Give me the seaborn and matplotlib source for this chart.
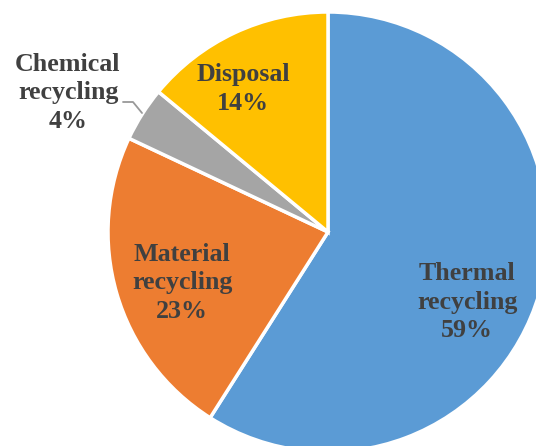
import matplotlib
matplotlib.use("Agg")
import matplotlib.pyplot as plt
import seaborn as sns

categories = ["Thermal\nrecycling", "Material\nrecycling", "Chemical\nrecycling", "Disposal"]
values = [59, 23, 4, 14]
colors = ["#5B9BD5", "#ED7D31", "#A5A5A5", "#FFC000"]
pct_labels = ["59%", "23%", "4%", "14%"]

sns.set_style("white")
plt.rcParams['font.family'] = ['Liberation Serif', 'DejaVu Serif']

W, H = 536, 446
fig = plt.figure(figsize=(W / 100, H / 100), dpi=100)
ax = fig.add_axes([0, 0, 1, 1])

cx, cy, r = 328, H - 232, 220
palette = sns.color_palette(colors)
ax.pie(values, colors=palette, startangle=90, counterclock=False,
       center=(cx, cy), radius=r, frame=True,
       wedgeprops=dict(edgecolor="white", linewidth=2.5))

ax.set_xlim(0, W)
ax.set_ylim(0, H)
ax.set_aspect("auto")
ax.axis("off")

txt = dict(fontsize=18.7, fontweight="bold", color="#404040",
           ha="center", va="center", linespacing=1.33)
# label positions (pixel coords from top-left)
pos = [(467, 302), (182, 283), (68, 93), (243, 89)]
for cat, p, (x, y) in zip(categories, pct_labels, pos):
    ax.text(x, H - y, f"{cat}\n{p}", **txt)

# leader line for Chemical recycling
ax.plot([123, 133, 142], [H - 102, H - 102, H - 113], color="#999999", lw=1.3)

fig.savefig("out.png", dpi=100)
